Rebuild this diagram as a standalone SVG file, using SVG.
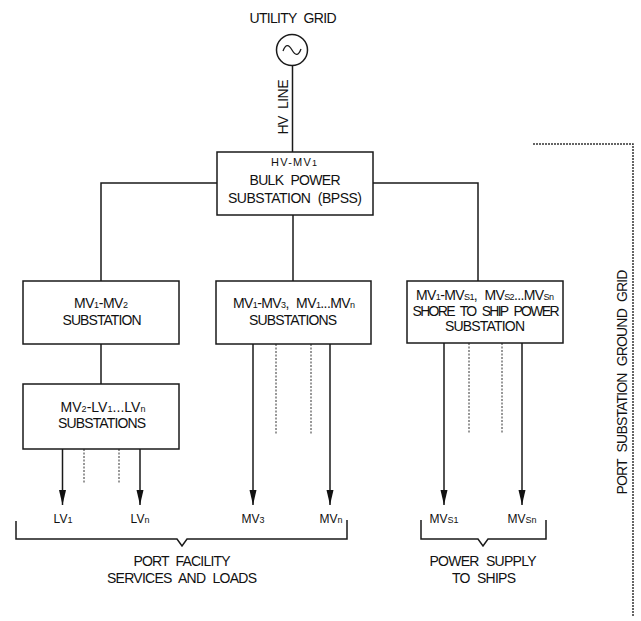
<svg xmlns="http://www.w3.org/2000/svg" width="641" height="621" viewBox="0 0 641 621">
<style>
  text { font-family: "Liberation Sans", Arial, sans-serif; font-size: 14px; fill: #111; text-anchor: middle; word-spacing: 4px; }
  .s { font-size: 9px; }
  .lbl { font-size: 12px; }
  .small { font-size: 11px; }
  .box { fill: #fff; stroke: #1a1a1a; stroke-width: 1.5; }
  .ln { fill: none; stroke: #1a1a1a; stroke-width: 1.5; }
  .dash { fill: none; stroke: #333; stroke-width: 1; stroke-dasharray: 2 1.5; }
  .grid { fill: none; stroke: #333; stroke-width: 1.5; stroke-dasharray: 2 1; }
</style>
<defs>
  <marker id="arr" markerUnits="userSpaceOnUse" markerWidth="16" markerHeight="8" refX="15" refY="3.5" orient="auto">
    <path d="M0,0 L15,3.5 L0,7 z" fill="#111"/>
  </marker>
</defs>
<rect width="641" height="621" fill="#fff"/>

<g id="connectors">
  <path class="ln" d="M292.5,65.5 V152"/>
  <path class="ln" d="M217,183 H101 V281"/>
  <path class="ln" d="M373,183 H478 V281"/>
  <path class="ln" d="M293,215 V281"/>
  <path class="ln" d="M101,344 V384"/>
  <path class="ln" d="M62.5,449 V505" marker-end="url(#arr)"/>
  <path class="ln" d="M140,449 V505" marker-end="url(#arr)"/>
  <path class="ln" d="M253,344 V505" marker-end="url(#arr)"/>
  <path class="ln" d="M330,344 V505" marker-end="url(#arr)"/>
  <path class="ln" d="M444,343 V505" marker-end="url(#arr)"/>
  <path class="ln" d="M522,343 V505" marker-end="url(#arr)"/>
  <path class="dash" d="M84,449 V483 M119,449 V483"/>
  <path class="dash" d="M276,344 V434 M311,344 V434"/>
  <path class="dash" d="M469,343 V434 M502,343 V434"/>
</g>

<g id="utility-grid">
  <circle cx="292" cy="50" r="15.5" fill="#fff" stroke="#1a1a1a" stroke-width="1.5"/>
  <path d="M283,51 C286,43 289,45 292,50 C295,55 298,57 301,49" fill="none" stroke="#1a1a1a" stroke-width="1.3"/>
  <text x="293" y="23" textLength="87" lengthAdjust="spacing">UTILITY GRID</text>
  <text transform="translate(288,107) rotate(-90)" x="0" y="0" textLength="55" lengthAdjust="spacing">HV LINE</text>
</g>

<g id="bpss">
  <rect class="box" x="217" y="152" width="156" height="63"/>
  <text class="small" x="294" y="166" textLength="46" lengthAdjust="spacing">HV-MV<tspan class="s">1</tspan></text>
  <text x="295" y="185" textLength="91" lengthAdjust="spacing">BULK POWER</text>
  <text x="295" y="203" textLength="134" lengthAdjust="spacing">SUBSTATION (BPSS)</text>
</g>

<g id="mv1-mv2">
  <rect class="box" x="23" y="281" width="156" height="63"/>
  <text x="101" y="308" textLength="54" lengthAdjust="spacing">MV<tspan class="s">1</tspan>-MV<tspan class="s">2</tspan></text>
  <text x="102" y="325" textLength="79" lengthAdjust="spacing">SUBSTATION</text>
</g>

<g id="mv2-lv">
  <rect class="box" x="23" y="384" width="156" height="65"/>
  <text x="103" y="412" textLength="85" lengthAdjust="spacing">MV<tspan class="s">2</tspan>-LV<tspan class="s">1</tspan>...LV<tspan class="s">n</tspan></text>
  <text x="102" y="428" textLength="88" lengthAdjust="spacing">SUBSTATIONS</text>
</g>

<g id="mv1-mv3">
  <rect class="box" x="216" y="281" width="155" height="63"/>
  <text x="294" y="308" textLength="122" lengthAdjust="spacing">MV<tspan class="s">1</tspan>-MV<tspan class="s">3</tspan>, MV<tspan class="s">1</tspan>...MV<tspan class="s">n</tspan></text>
  <text x="293" y="325" textLength="88" lengthAdjust="spacing">SUBSTATIONS</text>
</g>

<g id="shore-to-ship">
  <rect class="box" x="407" y="281" width="156" height="62"/>
  <text x="485" y="300" textLength="138" lengthAdjust="spacing">MV<tspan class="s">1</tspan>-MV<tspan class="s">S1</tspan>, MV<tspan class="s">S2</tspan>...MV<tspan class="s">Sn</tspan></text>
  <text x="486" y="316" textLength="147" lengthAdjust="spacing">SHORE TO SHIP POWER</text>
  <text x="485" y="331" textLength="80" lengthAdjust="spacing">SUBSTATION</text>
</g>

<g id="outputs">
  <text class="lbl" x="63" y="523">LV<tspan class="s">1</tspan></text>
  <text class="lbl" x="140" y="523">LV<tspan class="s">n</tspan></text>
  <text class="lbl" x="253" y="523">MV<tspan class="s">3</tspan></text>
  <text class="lbl" x="331" y="523">MV<tspan class="s">n</tspan></text>
  <text class="lbl" x="444" y="523">MV<tspan class="s">S1</tspan></text>
  <text class="lbl" x="522" y="523">MV<tspan class="s">Sn</tspan></text>
</g>

<g id="port-facility">
  <path class="ln" d="M16,521 V539 H177 L182,546 L187,539 H347 V520"/>
  <text x="182" y="566" textLength="97" lengthAdjust="spacing">PORT FACILITY</text>
  <text x="182" y="583" textLength="150" lengthAdjust="spacing">SERVICES AND LOADS</text>
</g>

<g id="power-supply-ships">
  <path class="ln" d="M421,520 V539 H478 L483,546 L488,539 H546 V520"/>
  <text x="483" y="566" textLength="107" lengthAdjust="spacing">POWER SUPPLY</text>
  <text x="484" y="583" textLength="64" lengthAdjust="spacing">TO SHIPS</text>
</g>

<g id="ground-grid">
  <path class="grid" d="M533,144 H633 V616"/>
  <text transform="translate(627,382) rotate(-90)" x="0" y="0" font-size="15" textLength="225" lengthAdjust="spacing">PORT SUBSTATION GROUND GRID</text>
</g>
</svg>
